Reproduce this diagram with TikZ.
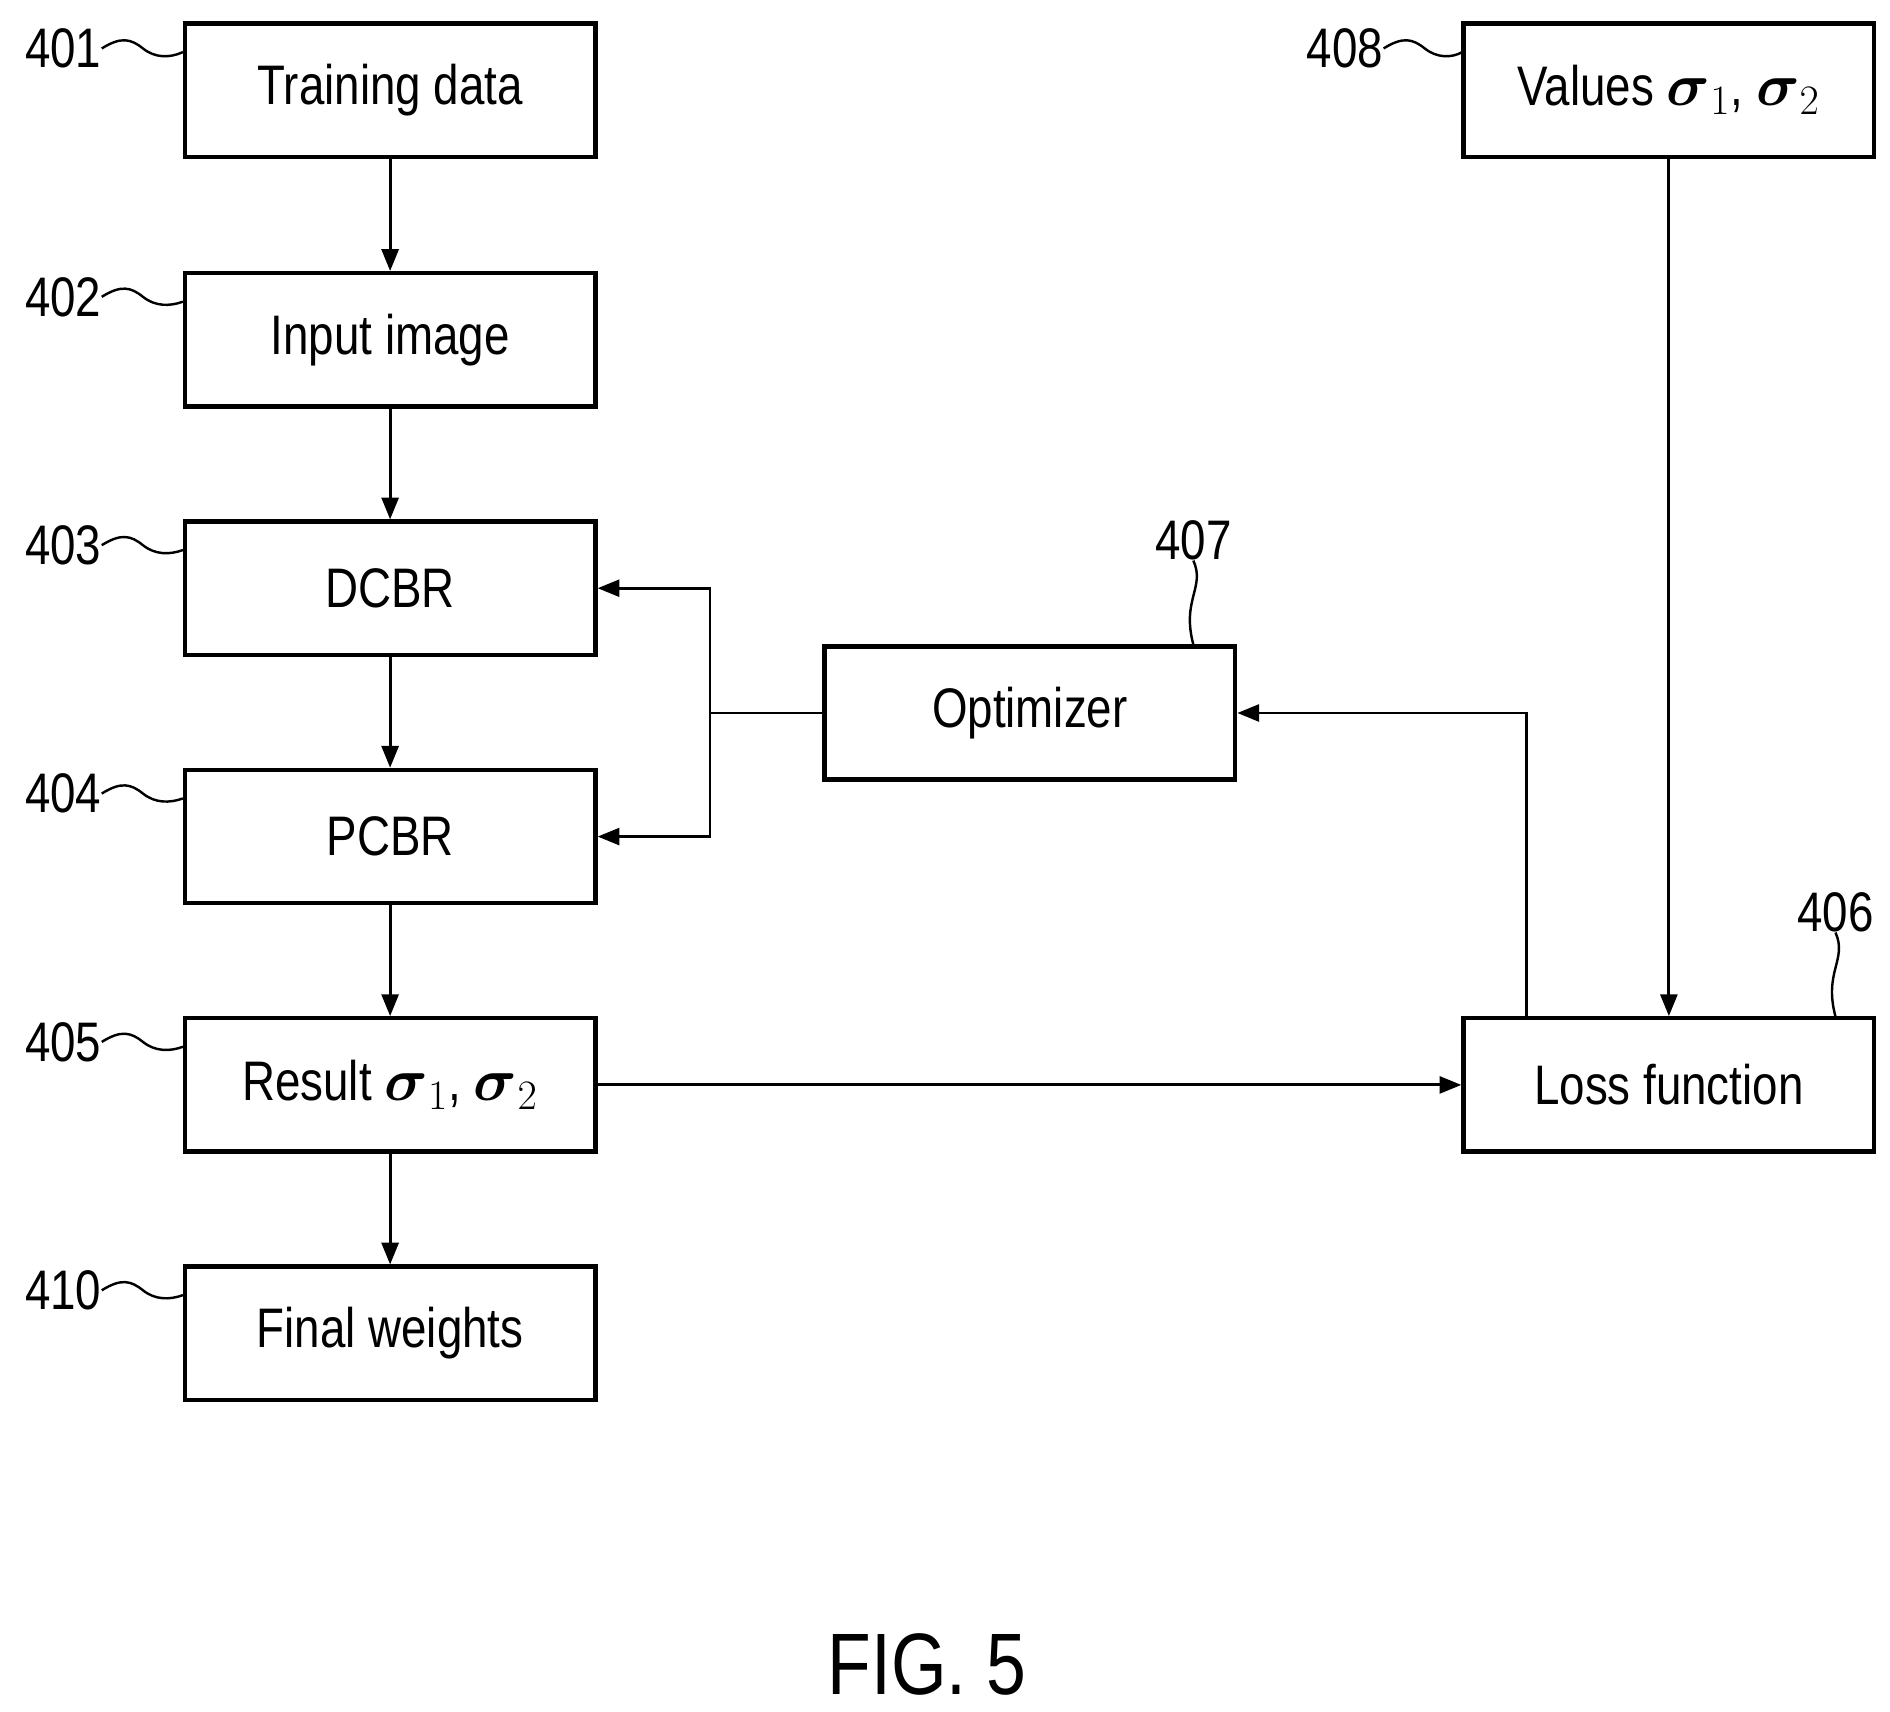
\documentclass[tikz,border=0pt]{standalone}
\usepackage{amsmath}
\usepackage{fontspec}
\setmainfont[FakeStretch=0.82]{Liberation Sans}
\usetikzlibrary{arrows.meta}
\begin{document}
\begin{tikzpicture}[x=0.5pt,y=-0.5pt,
  box/.style={draw,line width=1.8pt,minimum width=169.5pt,minimum height=55pt,inner sep=0pt,font=\fontsize{23}{26}\selectfont},
  arr/.style={line width=1.2pt,-{Triangle[length=9pt,width=7pt]}},
  ln/.style={line width=1.2pt},
  lab/.style={font=\fontsize{23}{26}\selectfont,inner sep=0pt},
  sq/.style={line width=1pt}]
\useasboundingbox (0,0) rectangle (1560,1413);
\node[box] (b401) at (322,74.5) {Training data};
\node[box] (b402) at (322,280.5) {Input image};
\node[box] (b403) at (322,485.5) {DCBR};
\node[box] (b404) at (322,690.5) {PCBR};
\node[box] (b405) at (322,895.5) {Result $\boldsymbol{\sigma}_1$, $\boldsymbol{\sigma}_2$};
\node[box] (b410) at (322,1100.5) {Final weights};
\node[box] (b408) at (1377.5,74.5) {Values $\boldsymbol{\sigma}_1$, $\boldsymbol{\sigma}_2$};
\node[box] (b406) at (1377.5,895.5) {Loss function};
\node[box] (b407) at (850,588.5) {Optimizer};
\draw[arr] (b401) -- (b402);
\draw[arr] (b402) -- (b403);
\draw[arr] (b403) -- (b404);
\draw[arr] (b404) -- (b405);
\draw[arr] (b405) -- (b410);
\draw[arr] (b405.east) -- (b406.west);
\draw[arr] (b408) -- (b406);
\coordinate (j) at (586,588.5);
\draw[ln] (b407.west) -- (j);
\draw[arr] (j) |- (b403.east);
\draw[arr] (j) |- (b404.east);
\coordinate (lt) at (1260,839);
\draw[arr] (lt) |- (b407.east);
\foreach \n/\y/\by in {401/40/18,402/245/224,403/450/429,404/655/634,405/860/839,410/1065/1044}{
  \node[lab,anchor=east] (l\n) at (84,\y) {\n};
  \draw[sq] (l\n.east) .. controls (100,\y-10) and (108,\y-8) .. (118,\y) .. controls (128,\y+8) and (140,\y+8) .. (151,\by+25);
}
\node[lab,anchor=east] (l408) at (1142,40) {408};
\draw[sq] (l408.east) .. controls (1158,30) and (1166,32) .. (1176,40) .. controls (1186,48) and (1198,48) .. (1207,43);
\node[lab] (l407) at (985,446) {407};
\draw[sq] (l407.south) .. controls (995,485) and (975,495) .. (985,532);
\node[lab] (l406) at (1515,753) {406};
\draw[sq] (l406.south) .. controls (1525,792) and (1505,802) .. (1515,839);
\node[font=\fontsize{36}{40}\selectfont,inner sep=0pt] (fig) at (765,1374) {FIG. 5};
\end{tikzpicture}
\end{document}
